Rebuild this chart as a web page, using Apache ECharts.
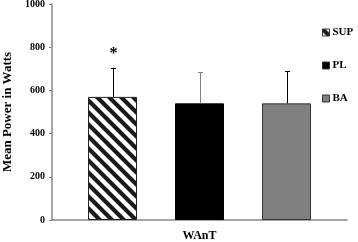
<!DOCTYPE html>
<html><head><meta charset="utf-8">
<style>html,body{margin:0;padding:0;background:#fff}#c{width:358px;height:242px}</style>
<script src="https://cdn.jsdelivr.net/npm/echarts@6/dist/echarts.min.js"></script>
</head><body><div id="c"></div>
<script>
var categories = ['WAnT'];
var seriesNames = ['SUP', 'PL', 'BA'];
var means = [570, 540, 540];
var sds = [135, 145, 148];
var marks = ['*', '', ''];
var yTicks = [0, 200, 400, 600, 800, 1000];

function stripe() {
  var c = document.createElement('canvas');
  c.width = 12; c.height = 12;
  var g = c.getContext('2d');
  g.fillStyle = '#fff'; g.fillRect(0, 0, 12, 12);
  g.strokeStyle = '#1a1a1a'; g.lineWidth = 4.2;
  g.beginPath();
  g.moveTo(-3, -3); g.lineTo(15, 15);
  g.moveTo(-15, -3); g.lineTo(3, 15);
  g.moveTo(9, -3); g.lineTo(27, 15);
  g.stroke();
  return c;
}
var fills = [{image: stripe(), repeat: 'repeat'}, '#000000', '#808080'];
var borders = ['#222', '#000', '#333'];
var errColors = ['#000', '#808080', '#000'];
var BW = 49, GAP = 38;

var chart = echarts.init(document.getElementById('c'));
var series = [];
seriesNames.forEach(function (n, i) {
  series.push({
    name: n, type: 'bar', data: [means[i]], barWidth: BW, barGap: (GAP / BW * 100) + '%',
    itemStyle: {color: fills[i], borderColor: borders[i], borderWidth: 1},
    z: 2
  });
});
seriesNames.forEach(function (n, i) {
  series.push({
    type: 'custom', silent: true, z: 3,
    data: [[0, means[i], sds[i]]],
    renderItem: function (params, api) {
      var off = (i - 1) * (BW + GAP);
      var b = api.coord([api.value(0), api.value(1)]);
      var t = api.coord([api.value(0), api.value(1) + api.value(2)]);
      var x = Math.round(b[0] + off) + 0.5;
      var children = [
        {type: 'line', shape: {x1: x, y1: b[1], x2: x, y2: t[1]}, style: {stroke: errColors[i], lineWidth: 1}},
        {type: 'line', shape: {x1: x - 2.5, y1: Math.round(t[1]) + 0.5, x2: x + 2.5, y2: Math.round(t[1]) + 0.5}, style: {stroke: errColors[i], lineWidth: 1}}
      ];
      if (marks[i]) {
        children.push({type: 'text', style: {text: marks[i], x: x, y: t[1] - 6, align: 'center', verticalAlign: 'bottom',
          font: 'bold 16px "Liberation Serif"', fill: '#000'}});
      }
      return {type: 'group', children: children};
    }
  });
});

chart.setOption({
  animation: false,
  backgroundColor: '#fff',
  grid: {left: 52, right: 11, top: 4, bottom: 22, containLabel: false, outerBoundsMode: 'none'},
  legend: {
    orient: 'vertical', left: 322, top: 27, padding: 0, itemWidth: 7, itemHeight: 7, itemGap: 22,
    icon: 'rect',
    data: seriesNames,
    itemStyle: {borderWidth: 1, borderColor: '#333'},
    textStyle: {fontFamily: 'Liberation Serif', fontSize: 11, fontWeight: 'bold', color: '#000', padding: [0, 0, 0, -2]}
  },
  xAxis: {
    type: 'category', data: categories,
    axisLine: {lineStyle: {color: '#888', width: 1.5}},
    axisTick: {show: false},
    axisLabel: {fontFamily: 'Liberation Serif', fontWeight: 'bold', fontSize: 12, color: '#000', margin: 10}
  },
  yAxis: {
    type: 'value', min: yTicks[0], max: yTicks[yTicks.length - 1], interval: 200,
    name: 'Mean Power in Watts', nameLocation: 'middle', nameGap: 30,
    nameTextStyle: {fontFamily: 'Liberation Serif', fontWeight: 'bold', fontSize: 13, color: '#000'},
    splitLine: {show: false},
    axisLine: {show: true, lineStyle: {color: '#888', width: 1.5}},
    axisTick: {show: true, length: 3, lineStyle: {color: '#888'}},
    axisLabel: {fontFamily: 'Liberation Serif', fontWeight: 'bold', fontSize: 10, color: '#000', margin: 7,
      formatter: function (v) { return String(v); }}
  },
  series: series
});
</script></body></html>
